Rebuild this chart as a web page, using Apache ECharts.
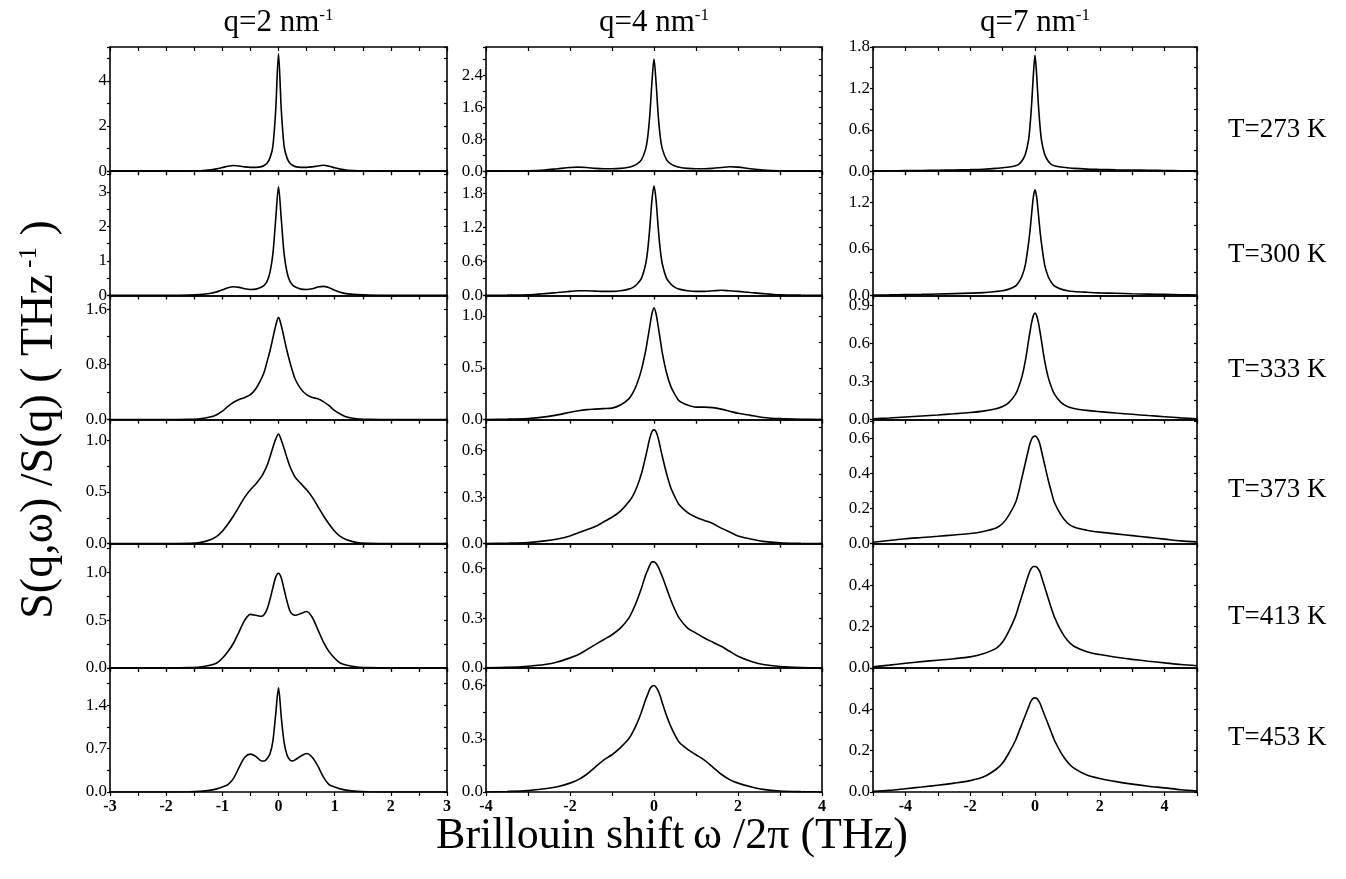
<!DOCTYPE html>
<html>
<head>
<meta charset="utf-8">
<script src="https://cdn.jsdelivr.net/npm/echarts@6/dist/echarts.min.js"></script>
<style>
  html, body { margin: 0; padding: 0; background: #ffffff; }
  #chart { width: 1346px; height: 879px; }
</style>
</head>
<body>
<div id="chart"></div>
<script>
// Brillouin shift sample points (THz) for each momentum transfer q
const shiftQ2 = [-3,-2,-1.6,-1.4,-1.2,-1.1,-1.0,-0.9,-0.8,-0.7,-0.6,-0.5,-0.4,-0.3,-0.25,-0.2,-0.15,-0.1,-0.05,0,0.05,0.1,0.15,0.2,0.25,0.3,0.4,0.5,0.6,0.7,0.8,0.9,1.0,1.1,1.2,1.4,1.6,2,3];
const shiftQ4 = [-4,-3.5,-3,-2.6,-2.3,-2,-1.8,-1.6,-1.4,-1.2,-1,-0.8,-0.6,-0.5,-0.4,-0.3,-0.2,-0.15,-0.1,-0.05,0,0.05,0.1,0.15,0.2,0.3,0.4,0.5,0.6,0.8,1,1.2,1.4,1.6,1.8,2,2.3,2.6,3,3.5,4];
const shiftQ7 = [-5,-4.5,-4,-3.5,-3,-2.5,-2,-1.6,-1.2,-1,-0.8,-0.6,-0.5,-0.4,-0.3,-0.2,-0.15,-0.1,-0.05,0,0.05,0.1,0.15,0.2,0.3,0.4,0.5,0.6,0.8,1,1.2,1.6,2,2.5,3,3.5,4,4.5,5];

// S(q,w)/S(q) in THz^-1, q = 2 nm^-1
const q2_T273 = [0,0,0.005,0.02,0.06,0.1,0.16,0.22,0.25,0.23,0.19,0.17,0.17,0.2,0.26,0.36,0.6,1.1,2.7,5.2,2.7,1.1,0.6,0.36,0.26,0.2,0.17,0.17,0.19,0.23,0.26,0.22,0.15,0.09,0.05,0.02,0.005,0,0];
const q2_T300 = [0,0,0.005,0.02,0.06,0.1,0.16,0.22,0.25,0.23,0.19,0.17,0.18,0.24,0.3,0.42,0.68,1.2,2.2,3.15,2.2,1.2,0.68,0.42,0.3,0.24,0.18,0.17,0.19,0.24,0.26,0.22,0.15,0.09,0.05,0.02,0.005,0,0];
const q2_T333 = [0,0,0.003,0.01,0.04,0.07,0.12,0.19,0.25,0.29,0.32,0.36,0.45,0.6,0.7,0.85,1.0,1.18,1.36,1.48,1.36,1.18,1.0,0.84,0.7,0.58,0.44,0.36,0.32,0.3,0.26,0.2,0.13,0.08,0.04,0.01,0.003,0,0];
const q2_T373 = [0,0,0.003,0.01,0.04,0.07,0.12,0.19,0.27,0.36,0.45,0.52,0.58,0.65,0.7,0.76,0.84,0.93,1.01,1.06,1.0,0.92,0.83,0.75,0.69,0.64,0.58,0.52,0.45,0.36,0.27,0.19,0.12,0.07,0.04,0.01,0.003,0,0];
const q2_T413 = [0,0,0.002,0.008,0.03,0.05,0.1,0.17,0.26,0.38,0.5,0.56,0.55,0.54,0.56,0.62,0.72,0.84,0.95,0.99,0.94,0.82,0.7,0.6,0.56,0.55,0.57,0.59,0.53,0.4,0.27,0.17,0.1,0.05,0.03,0.008,0.002,0,0];
const q2_T453 = [0,0,0.003,0.01,0.03,0.05,0.08,0.12,0.22,0.4,0.56,0.61,0.57,0.5,0.5,0.54,0.62,0.82,1.25,1.68,1.2,0.8,0.6,0.52,0.5,0.52,0.58,0.62,0.56,0.42,0.24,0.12,0.08,0.05,0.03,0.01,0.003,0,0];

// q = 4 nm^-1
const q4_T273 = [0,0.003,0.01,0.03,0.06,0.09,0.1,0.09,0.07,0.06,0.06,0.07,0.1,0.13,0.18,0.28,0.55,0.85,1.4,2.2,2.8,2.2,1.4,0.85,0.55,0.28,0.18,0.13,0.1,0.07,0.06,0.06,0.07,0.09,0.11,0.1,0.06,0.03,0.01,0.003,0];
const q4_T300 = [0,0.003,0.01,0.03,0.05,0.07,0.08,0.08,0.075,0.07,0.07,0.08,0.11,0.14,0.2,0.3,0.55,0.8,1.2,1.68,1.94,1.68,1.2,0.8,0.55,0.3,0.2,0.14,0.11,0.08,0.07,0.07,0.08,0.09,0.08,0.07,0.05,0.03,0.01,0.003,0];
const q4_T333 = [0,0.003,0.01,0.025,0.045,0.07,0.085,0.095,0.1,0.105,0.11,0.14,0.2,0.26,0.35,0.48,0.66,0.78,0.9,1.02,1.08,1.02,0.9,0.77,0.64,0.45,0.32,0.24,0.18,0.14,0.12,0.12,0.115,0.1,0.08,0.06,0.04,0.02,0.008,0.002,0];
const q4_T373 = [0,0.003,0.008,0.018,0.03,0.05,0.07,0.09,0.11,0.14,0.17,0.21,0.27,0.31,0.37,0.45,0.56,0.62,0.68,0.72,0.735,0.72,0.68,0.62,0.56,0.45,0.36,0.3,0.25,0.2,0.17,0.15,0.13,0.1,0.075,0.05,0.03,0.015,0.006,0.002,0];
const q4_T413 = [0,0.003,0.01,0.02,0.035,0.06,0.08,0.11,0.14,0.17,0.2,0.24,0.3,0.35,0.41,0.48,0.56,0.59,0.62,0.64,0.64,0.63,0.61,0.58,0.55,0.48,0.41,0.35,0.3,0.24,0.21,0.18,0.155,0.13,0.1,0.07,0.04,0.02,0.008,0.002,0];
const q4_T453 = [0,0.003,0.008,0.018,0.03,0.05,0.07,0.1,0.14,0.18,0.21,0.25,0.3,0.34,0.39,0.45,0.52,0.55,0.58,0.595,0.6,0.59,0.57,0.54,0.5,0.43,0.37,0.32,0.28,0.24,0.21,0.18,0.14,0.1,0.07,0.05,0.03,0.015,0.006,0.002,0];

// q = 7 nm^-1
const q7_T273 = [0.003,0.005,0.008,0.01,0.013,0.017,0.022,0.028,0.04,0.05,0.06,0.08,0.1,0.15,0.24,0.45,0.68,1.0,1.4,1.68,1.4,1.0,0.68,0.45,0.24,0.15,0.1,0.08,0.06,0.05,0.04,0.03,0.025,0.02,0.016,0.013,0.01,0.006,0.003];
const q7_T300 = [0.003,0.006,0.01,0.013,0.017,0.022,0.028,0.035,0.05,0.06,0.08,0.12,0.17,0.25,0.39,0.67,0.85,1.07,1.27,1.36,1.27,1.07,0.85,0.67,0.39,0.25,0.17,0.12,0.08,0.06,0.05,0.04,0.032,0.026,0.02,0.016,0.012,0.008,0.004];
const q7_T333 = [0.005,0.012,0.02,0.028,0.036,0.045,0.055,0.066,0.085,0.102,0.135,0.2,0.26,0.34,0.46,0.62,0.7,0.77,0.82,0.84,0.82,0.77,0.7,0.62,0.46,0.34,0.26,0.2,0.135,0.102,0.087,0.072,0.062,0.051,0.041,0.031,0.022,0.013,0.006];
const q7_T373 = [0.008,0.018,0.028,0.035,0.042,0.05,0.058,0.07,0.09,0.115,0.165,0.235,0.3,0.38,0.46,0.54,0.575,0.6,0.612,0.615,0.61,0.595,0.57,0.53,0.45,0.37,0.3,0.235,0.165,0.118,0.095,0.077,0.066,0.056,0.046,0.036,0.026,0.016,0.01];
const q7_T413 = [0.005,0.013,0.022,0.03,0.037,0.044,0.053,0.068,0.094,0.125,0.18,0.25,0.3,0.35,0.4,0.45,0.47,0.483,0.49,0.49,0.487,0.478,0.465,0.44,0.39,0.34,0.29,0.245,0.18,0.133,0.104,0.078,0.064,0.051,0.041,0.032,0.024,0.016,0.01];
const q7_T453 = [0.003,0.008,0.016,0.024,0.033,0.043,0.055,0.072,0.11,0.14,0.19,0.25,0.29,0.33,0.37,0.41,0.43,0.445,0.453,0.455,0.452,0.443,0.43,0.41,0.37,0.33,0.29,0.25,0.19,0.145,0.115,0.082,0.065,0.05,0.038,0.028,0.02,0.011,0.005];

// Panel labels
const qValues = ['2', '4', '7'];
const temperatures = ['T=273 K', 'T=300 K', 'T=333 K', 'T=373 K', 'T=413 K', 'T=453 K'];

// Shift axes: range, tick step, labelled ticks
const xRanges = [[-3, 3], [-4, 4], [-5, 5]];
const xTickSteps = [0.5, 1, 1];
const xTickLabels = [[-3, -2, -1, 0, 1, 2, 3], [-4, -2, 0, 2, 4], [-4, -2, 0, 2, 4]];

// Intensity axes per row (T) and column (q): upper limit and labelled ticks
const yMaxima = [
  [5.5, 3.1, 1.8],
  [3.6, 2.2, 1.6],
  [1.8, 1.2, 0.98],
  [1.2, 0.8, 0.71],
  [1.3, 0.75, 0.6],
  [2.0, 0.7, 0.6]
];
const yTickLabels = [
  [[0, 2, 4], [0, 0.8, 1.6, 2.4], [0, 0.6, 1.2, 1.8]],
  [[0, 1, 2, 3], [0, 0.6, 1.2, 1.8], [0, 0.6, 1.2]],
  [[0, 0.8, 1.6], [0, 0.5, 1.0], [0, 0.3, 0.6, 0.9]],
  [[0, 0.5, 1.0], [0, 0.3, 0.6], [0, 0.2, 0.4, 0.6]],
  [[0, 0.5, 1.0], [0, 0.3, 0.6], [0, 0.2, 0.4]],
  [[0, 0.7, 1.4], [0, 0.3, 0.6], [0, 0.2, 0.4]]
];

const shifts = [shiftQ2, shiftQ4, shiftQ7];
const spectra = [
  [q2_T273, q4_T273, q7_T273],
  [q2_T300, q4_T300, q7_T300],
  [q2_T333, q4_T333, q7_T333],
  [q2_T373, q4_T373, q7_T373],
  [q2_T413, q4_T413, q7_T413],
  [q2_T453, q4_T453, q7_T453]
];

// ---- layout ----
const FONT = '"Liberation Serif", "Times New Roman", serif';
const colLeft = [110, 486, 873];
const colRight = [447, 822, 1197];
const plotTop = 47;
const plotBottom = 792;
const nRows = temperatures.length;
const rowH = (plotBottom - plotTop) / nRows;
const tempLabelX = 1228;
const tempLabelY = [130, 255, 370, 490, 617, 738];

const ink = '#000000';
const axisLine = { show: true, onZero: false, lineStyle: { color: ink, width: 1.6 } };

function hasValue(list, v) {
  return list.some(function (t) { return Math.abs(t - v) < 1e-6; });
}

const grids = [], xAxes = [], yAxes = [], series = [];

for (let r = 0; r < nRows; r++) {
  for (let c = 0; c < 3; c++) {
    const k = r * 3 + c;
    grids.push({
      left: colLeft[c], top: plotTop + r * rowH,
      width: colRight[c] - colLeft[c], height: rowH,
      show: false, outerBoundsMode: 'none'
    });

    const isBottom = r === nRows - 1;
    const xl = xTickLabels[c];
    const xCommon = {
      gridIndex: k, type: 'value', min: xRanges[c][0], max: xRanges[c][1],
      interval: xTickSteps[c], axisLine: axisLine, splitLine: { show: false }
    };
    xAxes.push(Object.assign({}, xCommon, {
      position: 'bottom',
      axisTick: { show: true, inside: false, length: 4, lineStyle: { color: ink, width: 1.2 } },
      axisLabel: {
        show: isBottom, margin: 7, color: ink, fontFamily: FONT, fontSize: 16, fontWeight: 'bold',
        formatter: function (v) { return hasValue(xl, v) ? String(Math.round(v)) : ''; }
      }
    }));
    xAxes.push(Object.assign({}, xCommon, {
      position: 'top',
      axisTick: { show: true, inside: true, length: 4, lineStyle: { color: ink, width: 1.2 } },
      axisLabel: { show: false }
    }));

    const yl = yTickLabels[r][c];
    const integerLabels = yl.every(function (v) { return Math.abs(v - Math.round(v)) < 1e-9; });
    const yCommon = {
      gridIndex: k, type: 'value', min: 0, max: yMaxima[r][c],
      interval: yl[1] / 2, axisLine: axisLine, splitLine: { show: false }
    };
    yAxes.push(Object.assign({}, yCommon, {
      position: 'left',
      axisTick: { show: true, inside: false, length: 3, lineStyle: { color: ink, width: 1.2 } },
      axisLabel: {
        show: true, margin: 3, color: ink, fontFamily: FONT, fontSize: 17,
        formatter: function (v) {
          if (!hasValue(yl, v)) return '';
          return integerLabels ? String(Math.round(v)) : v.toFixed(1);
        }
      }
    }));
    yAxes.push(Object.assign({}, yCommon, {
      position: 'right',
      axisTick: { show: true, inside: true, length: 3, lineStyle: { color: ink, width: 1.2 } },
      axisLabel: { show: false }
    }));

    const xs = shifts[c];
    const ys = spectra[r][c];
    series.push({
      type: 'line', xAxisIndex: 2 * k, yAxisIndex: 2 * k,
      data: xs.map(function (x, i) { return [x, ys[i]]; }),
      showSymbol: false, smooth: 0.3, silent: true,
      lineStyle: { color: ink, width: 1.6 }
    });
  }
}

// ---- text ----
const graphics = [];
for (let c = 0; c < 3; c++) {
  graphics.push({
    type: 'text',
    x: (colLeft[c] + colRight[c]) / 2, y: 23,
    style: {
      text: 'q=' + qValues[c] + ' nm{s|-1}',
      fontFamily: FONT, fontSize: 31, fill: ink,
      textAlign: 'center', textVerticalAlign: 'middle',
      rich: { s: { fontFamily: FONT, fontSize: 17, fill: ink, verticalAlign: 'top' } }
    }
  });
}
for (let r = 0; r < nRows; r++) {
  graphics.push({
    type: 'text', x: tempLabelX, y: tempLabelY[r],
    style: {
      text: temperatures[r], fontFamily: FONT, fontSize: 27, fill: ink,
      textAlign: 'left', textVerticalAlign: 'middle'
    }
  });
}
graphics.push({
  type: 'text', x: 40, y: (plotTop + plotBottom) / 2, rotation: Math.PI / 2,
  style: {
    text: 'S(q,ω) /S(q) ( THz{s| -1} )',
    fontFamily: FONT, fontSize: 46, fill: ink,
    textAlign: 'center', textVerticalAlign: 'middle',
    rich: { s: { fontFamily: FONT, fontSize: 25, fill: ink, verticalAlign: 'top' } }
  }
});
graphics.push({
  type: 'text', x: 672, y: 836,
  style: {
    text: 'Brillouin shift\u2009ω /2π (THz)',
    fontFamily: FONT, fontSize: 44, fill: ink,
    textAlign: 'center', textVerticalAlign: 'middle'
  }
});

const chart = echarts.init(document.getElementById('chart'), null, { renderer: 'canvas' });
chart.setOption({
  animation: false,
  backgroundColor: '#ffffff',
  grid: grids,
  xAxis: xAxes,
  yAxis: yAxes,
  series: series,
  graphic: graphics
});
</script>
</body>
</html>
